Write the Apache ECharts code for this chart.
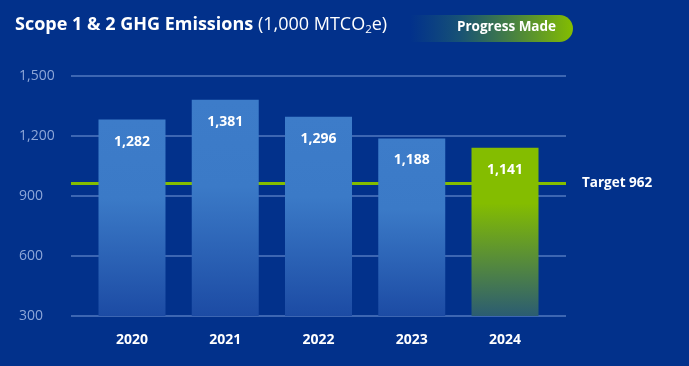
<!DOCTYPE html>
<html><head><meta charset="utf-8">
<script src="https://cdn.jsdelivr.net/npm/echarts@6/dist/echarts.min.js"></script>
<style>html,body{margin:0;padding:0;background:#02318b;}#c{width:689px;height:366px;}</style>
</head><body><div id="c"></div>
<script>
const years = ['2020','2021','2022','2023','2024'];
const emissions = [1282, 1381, 1296, 1188, 1141];
const target = 962;
const yTicks = [300, 600, 900, 1200, 1500];

const FONT = '"Open Sans", Lato, sans-serif';
const chart = echarts.init(document.getElementById('c'));
const blueGrad = new echarts.graphic.LinearGradient(0, 0, 0, 1, [
  {offset: 0, color: '#3d7cc9'},
  {offset: 0.4, color: '#3b7ac7'},
  {offset: 1, color: '#1c4ba4'}
]);
const greenGrad = new echarts.graphic.LinearGradient(0, 0, 0, 1, [
  {offset: 0, color: '#84bd00'},
  {offset: 0.33, color: '#84bd00'},
  {offset: 1, color: '#2b5c72'}
]);

chart.setOption({
  backgroundColor: '#02318b',
  animation: false,
  textStyle: {fontFamily: FONT},
  grid: [
    {left: 71, right: 123, top: 76, bottom: 50},
    {left: 85.4, right: 137.3, top: 76, bottom: 50}
  ],
  xAxis: [
    {type: 'value', gridIndex: 0, min: -0.654, max: years.length - 1 + 0.654, show: false},
    {type: 'category', gridIndex: 1, data: years,
     axisLine: {show: false}, axisTick: {show: false},
     axisLabel: {color: '#ffffff', fontWeight: 'bold', fontSize: 14, margin: 17, fontFamily: FONT}}
  ],
  yAxis: [
    {type: 'value', gridIndex: 0, min: yTicks[0], max: yTicks[yTicks.length-1], interval: 300,
     axisLine: {show: false}, axisTick: {show: false},
     splitLine: {lineStyle: {color: 'rgba(110,145,210,0.75)', width: 1.5}},
     axisLabel: {color: '#8ea7d8', fontSize: 14, align: 'left', margin: 52, fontFamily: FONT,
       formatter: v => v.toLocaleString('en-US')}},
    {type: 'value', gridIndex: 1, min: yTicks[0], max: yTicks[yTicks.length-1], interval: 300, show: false}
  ],
  series: [
    {type: 'line', xAxisIndex: 0, yAxisIndex: 0, z: 1, zlevel: 0, data: [],
     markLine: {silent: true, symbol: 'none', animation: false, z: 1,
       lineStyle: {color: '#84bd00', width: 3, type: 'solid'},
       label: {position: 'end', distance: 16, color: '#ffffff', fontWeight: 'bold', fontSize: 13.5, fontFamily: FONT,
         formatter: 'Target ' + target},
       data: [{yAxis: target}]}},
    {type: 'bar', xAxisIndex: 0, yAxisIndex: 0, z: 5, zlevel: 1, barWidth: 67,
     data: emissions.map((v, i) => ({value: [i, v], itemStyle: {color: i === emissions.length-1 ? greenGrad : blueGrad, opacity: 1}})),
     label: {show: true, position: 'insideTop', distance: 15, color: '#ffffff', fontWeight: 'bold', fontSize: 14, fontFamily: FONT,
       formatter: p => p.value[1].toLocaleString('en-US')}}
  ],
  graphic: [
    {type: 'text', left: 15, top: 16, z: 10,
     style: {rich: {
       b: {fill: '#ffffff', fontWeight: 'bold', fontSize: 18, fontFamily: FONT},
       n: {fill: '#ffffff', fontSize: 18, fontFamily: FONT},
       s: {fill: '#ffffff', fontSize: 11.5, fontFamily: FONT, padding: [10, 0, 0, 0]}
     }, text: '{b|Scope 1 & 2 GHG Emissions }{n|(1,000 MTCO}{s|2}{n|e)}'}},
    {type: 'rect', left: 410, top: 15, z: 9,
     shape: {width: 163, height: 27, r: [0, 13.5, 13.5, 0]},
     style: {fill: new echarts.graphic.LinearGradient(0, 0, 1, 0, [
       {offset: 0, color: 'rgba(20,80,120,0)'},
       {offset: 0.3, color: 'rgba(25,85,115,0.9)'},
       {offset: 1, color: '#84bd00'}
     ])}},
    {type: 'text', left: 457, top: 20, z: 10,
     style: {text: 'Progress Made', fill: '#ffffff', fontWeight: 'bold', fontSize: 13.5, fontFamily: FONT}}
  ]
});
</script></body></html>
